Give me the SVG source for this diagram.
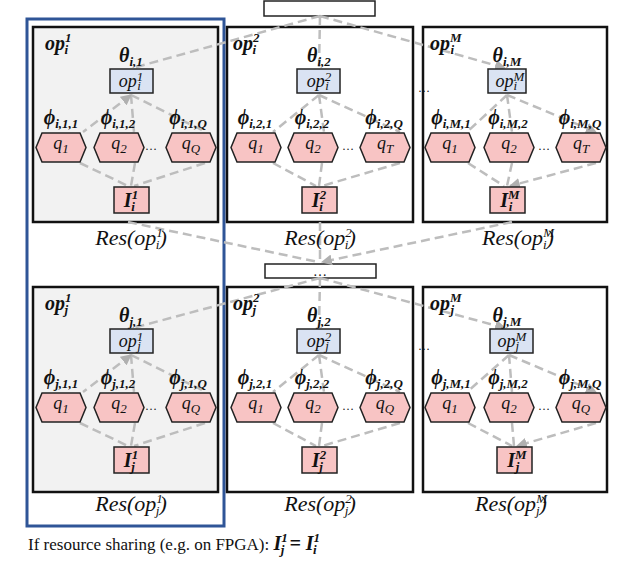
<svg xmlns="http://www.w3.org/2000/svg" width="630" height="582" viewBox="0 0 630 582">
<style>
.pan{stroke:#111;stroke-width:2.5}
.box{stroke:#222;stroke-width:1.5}
.op{fill:#dae3f3}
.pk{fill:#f8c4c4}
.c{fill:none;stroke:#bdbdbd;stroke-width:2.5;stroke-dasharray:9,5}
.e{marker-end:url(#ah)}
.s{marker-start:url(#ahs)}
text{font-family:"Liberation Serif","DejaVu Serif",serif;fill:#111}
.b{font-weight:bold;font-style:italic;font-size:20px}
.it{font-style:italic;font-size:18px}
.m{text-anchor:middle}
.sm{font-size:13px}
.r{font-size:22px}
</style>
<defs>
<marker id="ah" viewBox="0 0 10 10" refX="9" refY="5" markerWidth="11" markerHeight="11" markerUnits="userSpaceOnUse" orient="auto"><path d="M0,0L10,5L0,10z" fill="#b0b0b0"/></marker>
<marker id="ahs" viewBox="0 0 10 10" refX="1" refY="5" markerWidth="11" markerHeight="11" markerUnits="userSpaceOnUse" orient="auto"><path d="M10,0L0,5L10,10z" fill="#b0b0b0"/></marker>
<polygon id="hx" points="-19,-14.5 19,-14.5 25,0 19,14.5 -19,14.5 -25,0" stroke="#222" stroke-width="1.5"/>
</defs>
<rect x="27" y="19" width="197" height="507" fill="none" stroke="#2f5597" stroke-width="3"/>
<g id="panels">
<rect class="pan" x="33" y="27" width="185" height="195" fill="#f2f2f2"/>
<rect class="pan" x="227" y="27" width="186" height="195" fill="#fff"/>
<rect class="pan" x="423" y="27" width="184" height="195" fill="#fff"/>
<rect class="pan" x="33" y="287" width="185" height="205" fill="#f2f2f2"/>
<rect class="pan" x="227" y="287" width="186" height="205" fill="#fff"/>
<rect class="pan" x="423" y="287" width="184" height="205" fill="#fff"/>
</g>
<g id="hubs">
<rect x="264" y="1" width="111" height="15" fill="#fff" stroke="#222" stroke-width="1.5"/>
<rect x="265" y="264" width="111" height="14" fill="#fff" stroke="#222" stroke-width="1.5"/>
<text x="320" y="276" class="m" font-size="14">…</text>
</g>
<g id="connectors">
<path class="c e" d="M320,16L133,68M320,16L319,68M320,16L505,68"/>
<path class="c e" d="M320,278L133,328M320,278L319,328M320,278L505,328"/>
<path class="c e" d="M128,222L318,262M320,222L320,262M512,222L322,262"/>
<path class="c e s" d="M131,95L83,132M131,95L134,132M131,95L206,132M319,95L273,132M319,95L324,132M319,95L400,132M507,95L467,132M507,95L512,132M507,95L596,132"/>
<path class="c e" d="M80,163L128,186M135,163L131,186M205,163L134,186M273,163L316,186M322,163L319,186M400,163L322,186M468,163L504,186M512,163L507,186M596,163L510,186"/>
<path class="c e s" d="M131,355L83,392M131,355L134,392M131,355L206,392M319,355L273,392M319,355L324,392M319,355L400,392M509,355L467,392M509,355L512,392M509,355L596,392"/>
<path class="c e" d="M80,423L128,446M135,423L131,446M205,423L134,446M273,423L316,446M322,423L319,446M400,423L322,446M468,423L512,446M512,423L514,446M596,423L517,446"/>
</g>
<g id="op_i_1">
<text x="45" y="50" class="b">op<tspan class="sm" dy="-8">1</tspan><tspan class="sm" dx="-7" dy="12">i</tspan></text>
<text x="131" y="62" class="b m">θ<tspan class="sm" dy="4">i,1</tspan></text>
<rect class="box op" x="110" y="69" width="43" height="24"/>
<text x="131" y="87" class="it m">op<tspan class="sm" dy="-6">1</tspan><tspan class="sm" dx="-6" dy="9">i</tspan></text>
<text x="61" y="124" class="b m">ϕ<tspan class="sm" dy="4">i,1,1</tspan></text>
<text x="118" y="124" class="b m">ϕ<tspan class="sm" dy="4">i,1,2</tspan></text>
<text x="188" y="124" class="b m">ϕ<tspan class="sm" dy="4">i,1,Q</tspan></text>
<use href="#hx" x="61" y="147.5" class="pk"/><use href="#hx" x="119" y="147.5" class="pk"/><use href="#hx" x="191" y="147.5" class="pk"/>
<text x="61" y="149" class="it m">q<tspan class="sm" dy="4">1</tspan></text>
<text x="119" y="149" class="it m">q<tspan class="sm" dy="4">2</tspan></text>
<text x="191" y="149" class="it m">q<tspan class="sm" dy="4">Q</tspan></text>
<text x="151" y="150" class="m" font-size="12">…</text>
<rect class="box pk" x="114" y="187" width="35" height="26"/>
<text x="131" y="207" class="b m">I<tspan class="sm" dy="-8">1</tspan><tspan class="sm" dx="-7" dy="12">i</tspan></text>
<text x="131" y="245" class="it m r">Res(op<tspan class="sm" dy="-8">1</tspan><tspan class="sm" dx="-7" dy="12">i</tspan><tspan dy="-4">)</tspan></text>
</g>
<g id="op_i_2">
<text x="233" y="50" class="b">op<tspan class="sm" dy="-8">2</tspan><tspan class="sm" dx="-7" dy="12">i</tspan></text>
<text x="319" y="62" class="b m">θ<tspan class="sm" dy="4">i,2</tspan></text>
<rect class="box op" x="297" y="69" width="43" height="24"/>
<text x="319" y="87" class="it m">op<tspan class="sm" dy="-6">2</tspan><tspan class="sm" dx="-6" dy="9">i</tspan></text>
<text x="255" y="124" class="b m">ϕ<tspan class="sm" dy="4">i,2,1</tspan></text>
<text x="312" y="124" class="b m">ϕ<tspan class="sm" dy="4">i,2,2</tspan></text>
<text x="384" y="124" class="b m">ϕ<tspan class="sm" dy="4">i,2,Q</tspan></text>
<use href="#hx" x="256" y="147.5" class="pk"/><use href="#hx" x="313" y="147.5" class="pk"/><use href="#hx" x="385" y="147.5" class="pk"/>
<text x="256" y="149" class="it m">q<tspan class="sm" dy="4">1</tspan></text>
<text x="313" y="149" class="it m">q<tspan class="sm" dy="4">2</tspan></text>
<text x="385" y="149" class="it m">q<tspan class="sm" dy="4">T</tspan></text>
<text x="348" y="150" class="m" font-size="12">…</text>
<rect class="box pk" x="302" y="187" width="35" height="26"/>
<text x="319" y="207" class="b m">I<tspan class="sm" dy="-8">2</tspan><tspan class="sm" dx="-7" dy="12">i</tspan></text>
<text x="320" y="245" class="it m r">Res(op<tspan class="sm" dy="-8">2</tspan><tspan class="sm" dx="-7" dy="12">i</tspan><tspan dy="-4">)</tspan></text>
</g>
<text x="424" y="92" class="m" font-size="12">…</text>
<g id="op_i_M">
<text x="430" y="50" class="b">op<tspan class="sm" dy="-8">M</tspan><tspan class="sm" dx="-11" dy="12">i</tspan></text>
<text x="507" y="62" class="b m">θ<tspan class="sm" dy="4">i,M</tspan></text>
<rect class="box op" x="488" y="69" width="38" height="24"/>
<text x="510" y="87" class="it m">op<tspan class="sm" dy="-6">M</tspan><tspan class="sm" dx="-11" dy="9">i</tspan></text>
<text x="451" y="124" class="b m">ϕ<tspan class="sm" dy="4">i,M,1</tspan></text>
<text x="508" y="124" class="b m">ϕ<tspan class="sm" dy="4">i,M,2</tspan></text>
<text x="580" y="124" class="b m">ϕ<tspan class="sm" dy="4">i,M,Q</tspan></text>
<use href="#hx" x="450" y="147.5" class="pk"/><use href="#hx" x="509" y="147.5" class="pk"/><use href="#hx" x="581" y="147.5" class="pk"/>
<text x="450" y="149" class="it m">q<tspan class="sm" dy="4">1</tspan></text>
<text x="509" y="149" class="it m">q<tspan class="sm" dy="4">2</tspan></text>
<text x="581" y="149" class="it m">q<tspan class="sm" dy="4">T</tspan></text>
<text x="544" y="150" class="m" font-size="12">…</text>
<rect class="box pk" x="490" y="187" width="35" height="26"/>
<text x="510" y="207" class="b m">I<tspan class="sm" dy="-8">M</tspan><tspan class="sm" dx="-11" dy="12">i</tspan></text>
<text x="518" y="245" class="it m r">Res(op<tspan class="sm" dy="-8">M</tspan><tspan class="sm" dx="-11" dy="12">i</tspan><tspan dy="-4">)</tspan></text>
</g>
<g id="op_j_1">
<text x="45" y="310" class="b">op<tspan class="sm" dy="-8">1</tspan><tspan class="sm" dx="-7" dy="12">j</tspan></text>
<text x="131" y="322" class="b m">θ<tspan class="sm" dy="4">j,1</tspan></text>
<rect class="box op" x="110" y="329" width="43" height="24"/>
<text x="131" y="347" class="it m">op<tspan class="sm" dy="-6">1</tspan><tspan class="sm" dx="-6" dy="9">j</tspan></text>
<text x="61" y="384" class="b m">ϕ<tspan class="sm" dy="4">j,1,1</tspan></text>
<text x="118" y="384" class="b m">ϕ<tspan class="sm" dy="4">j,1,2</tspan></text>
<text x="188" y="384" class="b m">ϕ<tspan class="sm" dy="4">j,1,Q</tspan></text>
<use href="#hx" x="61" y="407.5" class="pk"/><use href="#hx" x="119" y="407.5" class="pk"/><use href="#hx" x="191" y="407.5" class="pk"/>
<text x="61" y="409" class="it m">q<tspan class="sm" dy="4">1</tspan></text>
<text x="119" y="409" class="it m">q<tspan class="sm" dy="4">2</tspan></text>
<text x="191" y="409" class="it m">q<tspan class="sm" dy="4">Q</tspan></text>
<text x="151" y="410" class="m" font-size="12">…</text>
<rect class="box pk" x="114" y="447" width="35" height="26"/>
<text x="131" y="467" class="b m">I<tspan class="sm" dy="-8">1</tspan><tspan class="sm" dx="-7" dy="12">j</tspan></text>
<text x="131" y="511" class="it m r">Res(op<tspan class="sm" dy="-8">1</tspan><tspan class="sm" dx="-7" dy="12">j</tspan><tspan dy="-4">)</tspan></text>
</g>
<g id="op_j_2">
<text x="233" y="310" class="b">op<tspan class="sm" dy="-8">2</tspan><tspan class="sm" dx="-7" dy="12">j</tspan></text>
<text x="319" y="322" class="b m">θ<tspan class="sm" dy="4">j,2</tspan></text>
<rect class="box op" x="297" y="329" width="43" height="24"/>
<text x="319" y="347" class="it m">op<tspan class="sm" dy="-6">2</tspan><tspan class="sm" dx="-6" dy="9">j</tspan></text>
<text x="255" y="384" class="b m">ϕ<tspan class="sm" dy="4">j,2,1</tspan></text>
<text x="312" y="384" class="b m">ϕ<tspan class="sm" dy="4">j,2,2</tspan></text>
<text x="384" y="384" class="b m">ϕ<tspan class="sm" dy="4">j,2,Q</tspan></text>
<use href="#hx" x="256" y="407.5" class="pk"/><use href="#hx" x="313" y="407.5" class="pk"/><use href="#hx" x="385" y="407.5" class="pk"/>
<text x="256" y="409" class="it m">q<tspan class="sm" dy="4">1</tspan></text>
<text x="313" y="409" class="it m">q<tspan class="sm" dy="4">2</tspan></text>
<text x="385" y="409" class="it m">q<tspan class="sm" dy="4">Q</tspan></text>
<text x="348" y="410" class="m" font-size="12">…</text>
<rect class="box pk" x="302" y="447" width="35" height="26"/>
<text x="319" y="467" class="b m">I<tspan class="sm" dy="-8">2</tspan><tspan class="sm" dx="-7" dy="12">j</tspan></text>
<text x="320" y="511" class="it m r">Res(op<tspan class="sm" dy="-8">2</tspan><tspan class="sm" dx="-7" dy="12">j</tspan><tspan dy="-4">)</tspan></text>
</g>
<text x="424" y="350" class="m" font-size="12">…</text>
<g id="op_j_M">
<text x="430" y="310" class="b">op<tspan class="sm" dy="-8">M</tspan><tspan class="sm" dx="-11" dy="12">j</tspan></text>
<text x="507" y="322" class="b m">θ<tspan class="sm" dy="4">j,M</tspan></text>
<rect class="box op" x="490" y="329" width="43" height="24"/>
<text x="512" y="347" class="it m">op<tspan class="sm" dy="-6">M</tspan><tspan class="sm" dx="-11" dy="9">j</tspan></text>
<text x="451" y="384" class="b m">ϕ<tspan class="sm" dy="4">j,M,1</tspan></text>
<text x="508" y="384" class="b m">ϕ<tspan class="sm" dy="4">j,M,2</tspan></text>
<text x="580" y="384" class="b m">ϕ<tspan class="sm" dy="4">j,M,Q</tspan></text>
<use href="#hx" x="450" y="407.5" class="pk"/><use href="#hx" x="509" y="407.5" class="pk"/><use href="#hx" x="581" y="407.5" class="pk"/>
<text x="450" y="409" class="it m">q<tspan class="sm" dy="4">1</tspan></text>
<text x="509" y="409" class="it m">q<tspan class="sm" dy="4">2</tspan></text>
<text x="581" y="409" class="it m">q<tspan class="sm" dy="4">Q</tspan></text>
<text x="544" y="410" class="m" font-size="12">…</text>
<rect class="box pk" x="497" y="447" width="35" height="26"/>
<text x="517" y="467" class="b m">I<tspan class="sm" dy="-8">M</tspan><tspan class="sm" dx="-11" dy="12">j</tspan></text>
<text x="511" y="511" class="it m r">Res(op<tspan class="sm" dy="-8">M</tspan><tspan class="sm" dx="-11" dy="12">j</tspan><tspan dy="-4">)</tspan></text>
</g>
<text x="28" y="550" font-size="17">If resource sharing (e.g. on FPGA):   <tspan font-weight="bold" font-style="italic" font-size="20">I<tspan class="sm" dy="-8">1</tspan><tspan class="sm" dx="-7" dy="12">j</tspan><tspan dy="-4"> = I</tspan><tspan class="sm" dy="-8">1</tspan><tspan class="sm" dx="-7" dy="12">i</tspan></tspan></text>
</svg>
